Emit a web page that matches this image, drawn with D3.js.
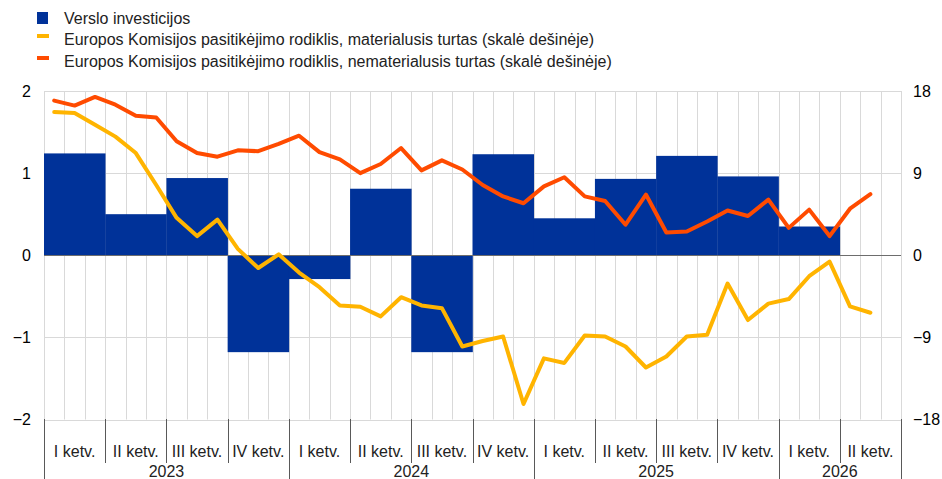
<!DOCTYPE html>
<html>
<head>
	<meta charset="utf-8">
	<title>Verslo investicijos</title>
	<script src="https://cdn.jsdelivr.net/npm/d3@7"></script>
	<style>
		body { margin: 0; background: #fff; }
		svg { display: block; font-family: "Liberation Sans", Arial, sans-serif; }
	</style>
</head>
<body>
	<div id="chart"></div>
	<script>

	// data

	const years = ["2023", "2024", "2025", "2026"];
	const quarters = ["I ketv.", "II ketv.", "III ketv.", "IV ketv.",
		"I ketv.", "II ketv.", "III ketv.", "IV ketv.",
		"I ketv.", "II ketv.", "III ketv.", "IV ketv.",
		"I ketv.", "II ketv."];
	const quarterYear = [0, 0, 0, 0, 1, 1, 1, 1, 2, 2, 2, 2, 3, 3];

	// quarterly business investment (left axis)
	const investment = [1.24, 0.5, 0.94, -1.18, -0.29, 0.81, -1.18, 1.23,
		0.45, 0.93, 1.21, 0.96, 0.35, null];

	// monthly EC confidence, Jan 2023 .. May 2026 (right axis)
	const tangible = [15.7, 15.6, 14.3, 13.0, 11.2, 7.7, 4.1, 2.1, 3.9, 0.7,
		-1.4, 0.1, -1.9, -3.5, -5.5, -5.65, -6.7, -4.6, -5.5, -5.8,
		-10.0, -9.4, -8.9, -16.3, -11.3, -11.8, -8.8, -8.9, -10.0, -12.3,
		-11.1, -8.9, -8.7, -3.1, -7.1, -5.3, -4.8, -2.3, -0.7, -5.6, -6.3];
	const intangible = [16.95, 16.4, 17.35, 16.5, 15.3, 15.1, 12.5, 11.2, 10.8, 11.5,
		11.4, 12.2, 13.1, 11.3, 10.5, 9.0, 10.0, 11.75, 9.3, 10.4,
		9.4, 7.7, 6.45, 5.7, 7.55, 8.55, 6.45, 5.95, 3.35, 6.65,
		2.5, 2.6, 3.7, 4.9, 4.3, 6.1, 3.0, 5.0, 2.1, 5.1, 6.7];

	const leftTicks = [2, 1, 0, -1, -2];
	const rightTicks = [18, 9, 0, -9, -18];

	const legendLabels = [
		"Verslo investicijos",
		"Europos Komisijos pasitikėjimo rodiklis, materialusis turtas (skalė dešinėje)",
		"Europos Komisijos pasitikėjimo rodiklis, nematerialusis turtas (skalė dešinėje)"
	];

	// styling

	const width = 942, height = 479;
	const margin = { top: 91, right: 41, bottom: 60, left: 44 };
	const colors = { bar: "#003299", tangible: "#ffb400", intangible: "#ff4b00" };
	const fontSize = 16;
	const fmt = v => v < 0 ? "\u2212" + Math.abs(v) : String(v);

	const svg = d3.select("#chart").append("svg")
		.attr("width", width)
		.attr("height", height)
		.attr("font-size", fontSize)
		.attr("fill", "#000");

	const plotBottom = height - margin.bottom;
	const months = d3.range(quarters.length * 3);

	const xQ = d3.scaleBand().domain(d3.range(quarters.length)).range([margin.left, width - margin.right]);
	const xM = d3.scaleBand().domain(months).range([margin.left, width - margin.right]);
	const yL = d3.scaleLinear().domain([-2, 2]).range([plotBottom + 0.5, margin.top]);
	const yR = d3.scaleLinear().domain([-18, 18]).range([plotBottom + 0.5, margin.top]);

	// grid
	const grid = svg.append("g").attr("stroke", "#d9d9d9").attr("stroke-width", 1);
	grid.selectAll("line.v")
		.data(d3.range(months.length + 1))
		.join("line")
		.attr("x1", i => Math.round(margin.left + i * xM.bandwidth()) + 0.5)
		.attr("x2", i => Math.round(margin.left + i * xM.bandwidth()) + 0.5)
		.attr("y1", yL(2))
		.attr("y2", yL(-2));
	grid.selectAll("line.h")
		.data(leftTicks.filter(d => d !== 0))
		.join("line")
		.attr("x1", margin.left)
		.attr("x2", width - margin.right)
		.attr("y1", d => Math.round(yL(d)) + 0.5)
		.attr("y2", d => Math.round(yL(d)) + 0.5);

	// bars
	svg.append("g")
		.attr("fill", colors.bar)
		.selectAll("rect")
		.data(investment.map((v, i) => ({ v, i })).filter(d => d.v !== null))
		.join("rect")
		.attr("x", d => xQ(d.i))
		.attr("width", xQ.bandwidth() + 0.3)
		.attr("y", d => yL(Math.max(0, d.v)))
		.attr("height", d => Math.abs(yL(d.v) - yL(0)));

	// zero line
	svg.append("line")
		.attr("x1", margin.left)
		.attr("x2", width - margin.right)
		.attr("y1", Math.round(yL(0)) + 0.5)
		.attr("y2", Math.round(yL(0)) + 0.5)
		.attr("stroke", "#6d6d6d")
		.attr("stroke-width", 1);

	// lines
	const line = d3.line()
		.x((d, i) => xM(i) + xM.bandwidth() / 2)
		.y(d => yR(d));

	[["tangible", tangible], ["intangible", intangible]].forEach(([key, values]) => {
		svg.append("path")
			.datum(values)
			.attr("fill", "none")
			.attr("stroke", colors[key])
			.attr("stroke-width", 4)
			.attr("stroke-linejoin", "round")
			.attr("stroke-linecap", "round")
			.attr("d", line);
	});

	// y axes labels
	svg.append("g")
		.attr("text-anchor", "end")
		.selectAll("text")
		.data(leftTicks)
		.join("text")
		.attr("x", 31)
		.attr("y", d => yL(d))
		.attr("dy", "0.35em")
		.text(fmt);

	svg.append("g")
		.attr("text-anchor", "start")
		.selectAll("text")
		.data(rightTicks)
		.join("text")
		.attr("x", 913)
		.attr("y", d => yR(d))
		.attr("dy", "0.35em")
		.text(fmt);

	// x axis: quarters and years
	const xAxis = svg.append("g").attr("stroke", "#595959").attr("stroke-width", 1);
	const qEdges = d3.range(quarters.length + 1);
	xAxis.selectAll("line")
		.data(qEdges)
		.join("line")
		.attr("x1", i => Math.round(margin.left + i * xQ.bandwidth()) + 0.5)
		.attr("x2", i => Math.round(margin.left + i * xQ.bandwidth()) + 0.5)
		.attr("y1", plotBottom)
		.attr("y2", i => (i === 0 || i === quarters.length || i % 4 === 0) ? height : plotBottom + 44);

	svg.append("g")
		.attr("text-anchor", "middle")
		.attr("fill", "#222")
		.selectAll("text")
		.data(quarters)
		.join("text")
		.attr("x", (d, i) => xQ(i) + xQ.bandwidth() / 2)
		.attr("y", plotBottom + 38)
		.text(d => d);

	svg.append("g")
		.attr("text-anchor", "middle")
		.attr("fill", "#222")
		.selectAll("text")
		.data(years)
		.join("text")
		.attr("x", (d, yi) => {
			const idx = d3.range(quarters.length).filter(i => quarterYear[i] === yi);
			return (xQ(idx[0]) + xQ(idx[idx.length - 1]) + xQ.bandwidth()) / 2;
		})
		.attr("y", height - 2)
		.text(d => d);

	// legend
	const legend = svg.append("g").attr("transform", "translate(37,0)");
	const rowY = [18, 39, 61];
	legend.append("rect")
		.attr("x", 0).attr("y", rowY[0] - 6)
		.attr("width", 11).attr("height", 12)
		.attr("fill", colors.bar);
	[colors.tangible, colors.intangible].forEach((c, i) => {
		legend.append("rect")
			.attr("x", 0).attr("y", rowY[i + 1] - 5)
			.attr("width", 12).attr("height", 4)
			.attr("fill", c);
	});
	legend.selectAll("text")
		.data(legendLabels)
		.join("text")
		.attr("x", 27)
		.attr("y", (d, i) => rowY[i])
		.attr("dy", "0.35em")
		.attr("fill", "#222")
		.text(d => d);

	</script>
</body>
</html>
